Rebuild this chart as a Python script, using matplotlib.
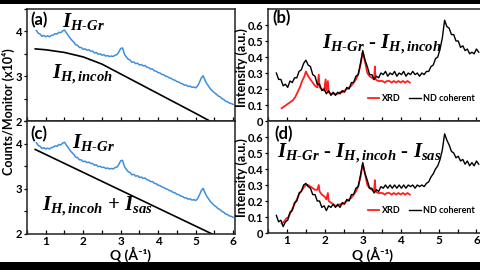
import matplotlib

matplotlib.use("Agg")
import matplotlib.pyplot as plt
from matplotlib.patches import Rectangle
from matplotlib.ticker import MultipleLocator, FuncFormatter

plt.rcParams["font.family"] = ["Lato", "DejaVu Sans"]
plt.rcParams["font.weight"] = "bold"
plt.rcParams["mathtext.fontset"] = "custom"
plt.rcParams["mathtext.it"] = "Liberation Serif:italic:bold"
plt.rcParams["mathtext.rm"] = "Liberation Serif:bold"
plt.rcParams["mathtext.bf"] = "Liberation Serif:bold"

# ---- left panels: raw counts (x10^4) ----
q_gr = [0.75, 0.80, 0.85, 0.90, 0.95, 1.00, 1.05, 1.10, 1.15, 1.20, 1.25, 1.30, 1.35, 1.40,
        1.45, 1.50, 1.55, 1.60, 1.65, 1.70, 1.75, 1.80, 1.85, 1.90, 1.95, 2.00, 2.05, 2.10,
        2.15, 2.20, 2.25, 2.30, 2.35, 2.40, 2.45, 2.50, 2.55, 2.60, 2.65, 2.70, 2.75, 2.80,
        2.85, 2.90, 2.95, 3.00, 3.05, 3.10, 3.15, 3.20, 3.25, 3.30, 3.35, 3.40, 3.45, 3.50,
        3.55, 3.60, 3.65, 3.70, 3.75, 3.80, 3.85, 3.90, 3.95, 4.00, 4.05, 4.10, 4.15, 4.20,
        4.25, 4.30, 4.35, 4.40, 4.45, 4.50, 4.55, 4.60, 4.65, 4.70, 4.75, 4.80, 4.85, 4.90,
        4.95, 5.00, 5.05, 5.10, 5.15, 5.20, 5.25, 5.30, 5.35, 5.40, 5.45, 5.50, 5.55, 5.60,
        5.65, 5.70, 5.75, 5.80, 5.85, 5.90, 5.95, 6.00]
i_h_gr = [4.02, 3.96, 3.94, 3.89, 3.91, 3.88, 3.90, 3.88, 3.91, 3.92, 3.95, 3.94, 3.98, 3.97,
          4.01, 4.03, 3.97, 3.91, 3.85, 3.80, 3.76, 3.70, 3.69, 3.64, 3.64, 3.60, 3.61, 3.58,
          3.59, 3.56, 3.56, 3.52, 3.53, 3.49, 3.50, 3.47, 3.48, 3.45, 3.46, 3.44, 3.45, 3.44,
          3.47, 3.48, 3.54, 3.62, 3.63, 3.49, 3.43, 3.38, 3.36, 3.31, 3.32, 3.28, 3.29, 3.25,
          3.26, 3.23, 3.24, 3.20, 3.19, 3.16, 3.16, 3.12, 3.11, 3.08, 3.07, 3.04, 3.03, 3.00,
          2.99, 2.96, 2.95, 2.92, 2.91, 2.88, 2.87, 2.84, 2.83, 2.80, 2.80, 2.77, 2.78, 2.75,
          2.76, 2.74, 2.78, 2.86, 2.96, 3.01, 2.91, 2.83, 2.77, 2.71, 2.67, 2.63, 2.60, 2.56,
          2.54, 2.50, 2.48, 2.44, 2.43, 2.40, 2.39, 2.37]

q_incoh = [0.72, 1.0, 1.5, 2.0, 2.5, 3.0, 3.5, 4.0, 4.5, 5.0, 5.4]
i_incoh = [3.61, 3.59, 3.53, 3.43, 3.27, 3.05, 2.83, 2.61, 2.39, 2.17, 1.99]

q_incoh_sas = [0.72, 5.44]
i_incoh_sas = [3.87, 2.0]

# ---- right panels: coherent intensity ----
q_nd = [0.72, 0.78, 0.84, 0.90, 0.96, 1.02, 1.08, 1.14, 1.20, 1.26, 1.32, 1.38, 1.44, 1.50,
        1.56, 1.62, 1.68, 1.74, 1.80, 1.86, 1.92, 1.98, 2.04, 2.10, 2.16, 2.22, 2.28, 2.34,
        2.40, 2.46, 2.52, 2.58, 2.64, 2.70, 2.76, 2.82, 2.88, 2.94, 3.00, 3.06, 3.12, 3.18,
        3.24, 3.30, 3.36, 3.42, 3.48, 3.54, 3.60, 3.66, 3.72, 3.78, 3.84, 3.90, 3.96, 4.02,
        4.08, 4.14, 4.20, 4.26, 4.32, 4.38, 4.44, 4.50, 4.56, 4.62, 4.68, 4.74, 4.80, 4.86,
        4.92, 4.98, 5.04, 5.10, 5.16, 5.22, 5.28, 5.34, 5.40, 5.46, 5.52, 5.58, 5.64, 5.70,
        5.76, 5.82, 5.88, 5.94, 6.00, 6.06]
nd_b = [0.30, 0.26, 0.26, 0.22, 0.23, 0.21, 0.25, 0.24, 0.27, 0.27, 0.31, 0.32, 0.36, 0.38,
        0.35, 0.34, 0.29, 0.28, 0.23, 0.23, 0.19, 0.20, 0.17, 0.19, 0.16, 0.18, 0.16, 0.18,
        0.17, 0.19, 0.18, 0.21, 0.20, 0.24, 0.24, 0.28, 0.29, 0.36, 0.44, 0.38, 0.34, 0.29,
        0.29, 0.26, 0.28, 0.27, 0.30, 0.29, 0.31, 0.28, 0.30, 0.29, 0.31, 0.28, 0.30, 0.29,
        0.31, 0.28, 0.30, 0.29, 0.31, 0.29, 0.30, 0.28, 0.30, 0.29, 0.31, 0.31, 0.34, 0.35,
        0.39, 0.40, 0.45, 0.52, 0.63, 0.59, 0.58, 0.54, 0.54, 0.50, 0.50, 0.46, 0.47, 0.44,
        0.45, 0.42, 0.43, 0.42, 0.45, 0.43]
nd_d = [0.11, 0.07, 0.08, 0.04, 0.07, 0.08, 0.13, 0.14, 0.19, 0.20, 0.25, 0.26, 0.30, 0.31,
        0.29, 0.28, 0.24, 0.24, 0.20, 0.20, 0.16, 0.17, 0.14, 0.17, 0.16, 0.18, 0.16, 0.18,
        0.16, 0.19, 0.18, 0.21, 0.20, 0.24, 0.24, 0.28, 0.29, 0.36, 0.44, 0.37, 0.33, 0.28,
        0.28, 0.25, 0.27, 0.26, 0.29, 0.28, 0.30, 0.28, 0.30, 0.28, 0.30, 0.28, 0.30, 0.28,
        0.30, 0.28, 0.30, 0.29, 0.30, 0.28, 0.30, 0.29, 0.30, 0.29, 0.31, 0.32, 0.35, 0.37,
        0.40, 0.42, 0.46, 0.52, 0.62, 0.58, 0.55, 0.51, 0.50, 0.47, 0.48, 0.45, 0.46, 0.43,
        0.45, 0.42, 0.44, 0.42, 0.45, 0.43]

q_xrd = [0.86, 0.92, 0.98, 1.04, 1.10, 1.16, 1.22, 1.28, 1.34, 1.40, 1.46, 1.50, 1.56, 1.62,
         1.68, 1.74, 1.80, 1.84, 1.86, 1.92, 1.98, 2.02, 2.04, 2.08, 2.10, 2.16, 2.22, 2.28,
         2.34, 2.40, 2.46, 2.52, 2.58, 2.64, 2.70, 2.76, 2.82, 2.88, 2.94, 3.00, 3.06, 3.12,
         3.18, 3.24, 3.30, 3.32, 3.34, 3.40, 3.46, 3.52, 3.58, 3.64, 3.70, 3.76, 3.82, 3.88,
         3.94, 4.00, 4.06, 4.12, 4.18, 4.24]
xrd_b = [0.08, 0.09, 0.10, 0.11, 0.12, 0.13, 0.15, 0.18, 0.21, 0.25, 0.28, 0.31, 0.28, 0.26,
         0.24, 0.22, 0.21, 0.29, 0.21, 0.20, 0.19, 0.26, 0.19, 0.25, 0.18, 0.17, 0.17, 0.17,
         0.17, 0.18, 0.18, 0.19, 0.20, 0.21, 0.22, 0.24, 0.26, 0.29, 0.35, 0.43, 0.37, 0.30,
         0.28, 0.27, 0.26, 0.34, 0.26, 0.25, 0.25, 0.25, 0.24, 0.25, 0.25, 0.24, 0.25, 0.24,
         0.25, 0.24, 0.25, 0.24, 0.25, 0.24]
xrd_d = [0.06, 0.07, 0.09, 0.10, 0.13, 0.16, 0.19, 0.22, 0.25, 0.27, 0.29, 0.30, 0.30, 0.29,
         0.28, 0.27, 0.27, 0.30, 0.26, 0.24, 0.23, 0.22, 0.21, 0.25, 0.20, 0.19, 0.18, 0.17,
         0.17, 0.18, 0.18, 0.19, 0.20, 0.21, 0.22, 0.24, 0.26, 0.29, 0.35, 0.43, 0.37, 0.30,
         0.28, 0.27, 0.26, 0.33, 0.26, 0.25, 0.25, 0.25, 0.24, 0.25, 0.25, 0.24, 0.25, 0.24,
         0.25, 0.24, 0.25, 0.24, 0.25, 0.24]

BLUE = "#3d8fdc"
RED = "#ff1f1f"
W, H = 480, 270


def px_axes(fig, x0, y0, x1, y1):
    # pixel box (top-left origin) -> figure axes
    return fig.add_axes([x0 / W, 1 - y1 / H, (x1 - x0) / W, (y1 - y0) / H])


def style(ax, left, bottom_labels):
    for s in ax.spines.values():
        s.set_linewidth(1.1)
        s.set_color("#222222")
    ax.xaxis.set_major_locator(MultipleLocator(1))
    ax.xaxis.set_minor_locator(MultipleLocator(0.5))
    ax.tick_params(axis="x", which="both", direction="in", length=3, width=0.9,
                   labelbottom=bottom_labels, labelsize=8.5, pad=1.5)
    ax.tick_params(axis="y", which="both", direction="out", length=2.5, width=0.9,
                   labelsize=8, pad=1)
    if left:
        ax.set_xlim(0.5, 6.05)
        ax.set_ylim(2, 4.5)
        ax.yaxis.set_major_locator(MultipleLocator(1))
        ax.yaxis.set_minor_locator(MultipleLocator(0.5))
    else:
        ax.set_xlim(0.5, 6.12)
        ax.set_ylim(0, 0.7)
        ax.set_yticks([0, 0.1, 0.2, 0.3, 0.4, 0.5, 0.6])
        ax.yaxis.set_major_formatter(FuncFormatter(lambda v, p: "0" if abs(v) < 1e-9 else f"{v:.1f}"))


fig = plt.figure(figsize=(4.8, 2.7), dpi=100)

ax_a = px_axes(fig, 27, 9, 235, 121)
ax_c = px_axes(fig, 27, 121, 235, 234)
ax_b = px_axes(fig, 268, 9, 481, 121)
ax_d = px_axes(fig, 268, 121, 481, 233)

for ax, left, lab in [(ax_a, True, False), (ax_c, True, True), (ax_b, False, False), (ax_d, False, True)]:
    style(ax, left, lab)

ax_a.plot(q_gr, i_h_gr, color=BLUE, lw=1.1)
ax_a.plot(q_incoh, i_incoh, color="black", lw=1.2)
ax_c.plot(q_gr, i_h_gr, color=BLUE, lw=1.1)
ax_c.plot(q_incoh_sas, i_incoh_sas, color="black", lw=1.2)

for ax, xrd, nd in [(ax_b, xrd_b, nd_b), (ax_d, xrd_d, nd_d)]:
    ax.plot(q_xrd, xrd, color=RED, lw=1.3, label="XRD")
    ax.plot(q_nd, nd, color="black", lw=1.0, label="ND coherent")
    ax.legend(loc="center", bbox_to_anchor=(0.72, 0.2), ncol=2, frameon=False,
              handlelength=1.3, handletextpad=0.3, columnspacing=0.9,
              prop={"weight": "bold", "size": 6.5})

# panel letters
for ax, t, x, y in [(ax_a, "(a)", 0.015, 0.97), (ax_c, "(c)", 0.015, 0.96),
                    (ax_b, "(b)", 0.02, 0.99), (ax_d, "(d)", 0.03, 0.96)]:
    ax.text(x, y, t, transform=ax.transAxes, ha="left", va="top",
            fontsize=12, fontweight="bold")

serif = dict(family="Liberation Serif", fontweight="bold", fontsize=15,
             ha="left", va="baseline")
ax_a.text(0.17, 0.84, r"$I_{H\text{-}Gr}$", transform=ax_a.transAxes, **serif)
ax_a.text(0.12, 0.38, r"$I_{H,incoh}$", transform=ax_a.transAxes, **serif)
ax_c.text(0.215, 0.76, r"$I_{H\text{-}Gr}$", transform=ax_c.transAxes, **serif)
ax_c.text(0.07, 0.21, r"$I_{H,incoh}$ + $I_{sas}$", transform=ax_c.transAxes, **serif)
ax_b.text(0.255, 0.65, r"$I_{H\text{-}Gr}$ - $I_{H,incoh}$", transform=ax_b.transAxes, **serif)
ax_d.text(0.042, 0.67, r"$I_{H\text{-}Gr}$ - $I_{H,incoh}$ - $I_{sas}$", transform=ax_d.transAxes, **serif)

# axis labels
fig.text(8 / W, 1 - 112 / H, "Counts/Monitor (x10⁴)", rotation=90, ha="center", va="center",
         fontsize=9, fontweight="bold")
fig.text(242 / W, 1 - 68 / H, "Intensity (a.u.)", rotation=90, ha="center", va="center",
         fontsize=9, fontweight="bold")
fig.text(242 / W, 1 - 178 / H, "Intensity (a.u.)", rotation=90, ha="center", va="center",
         fontsize=9, fontweight="bold")
fig.text(130 / W, 1 - 254 / H, "Q (Å⁻¹)", ha="center", va="center", fontsize=10, fontweight="bold")
fig.text(372 / W, 1 - 254 / H, "Q (Å⁻¹)", ha="center", va="center", fontsize=10, fontweight="bold")

# black bands at top and bottom of the image
fig.patches.append(Rectangle((0, 1 - 4 / H), 1, 4 / H, transform=fig.transFigure,
                             facecolor="black", edgecolor="none", zorder=10))
fig.patches.append(Rectangle((0, 0), 1, 8.5 / H, transform=fig.transFigure,
                             facecolor="black", edgecolor="none", zorder=10))

fig.savefig("out.png", dpi=100)
